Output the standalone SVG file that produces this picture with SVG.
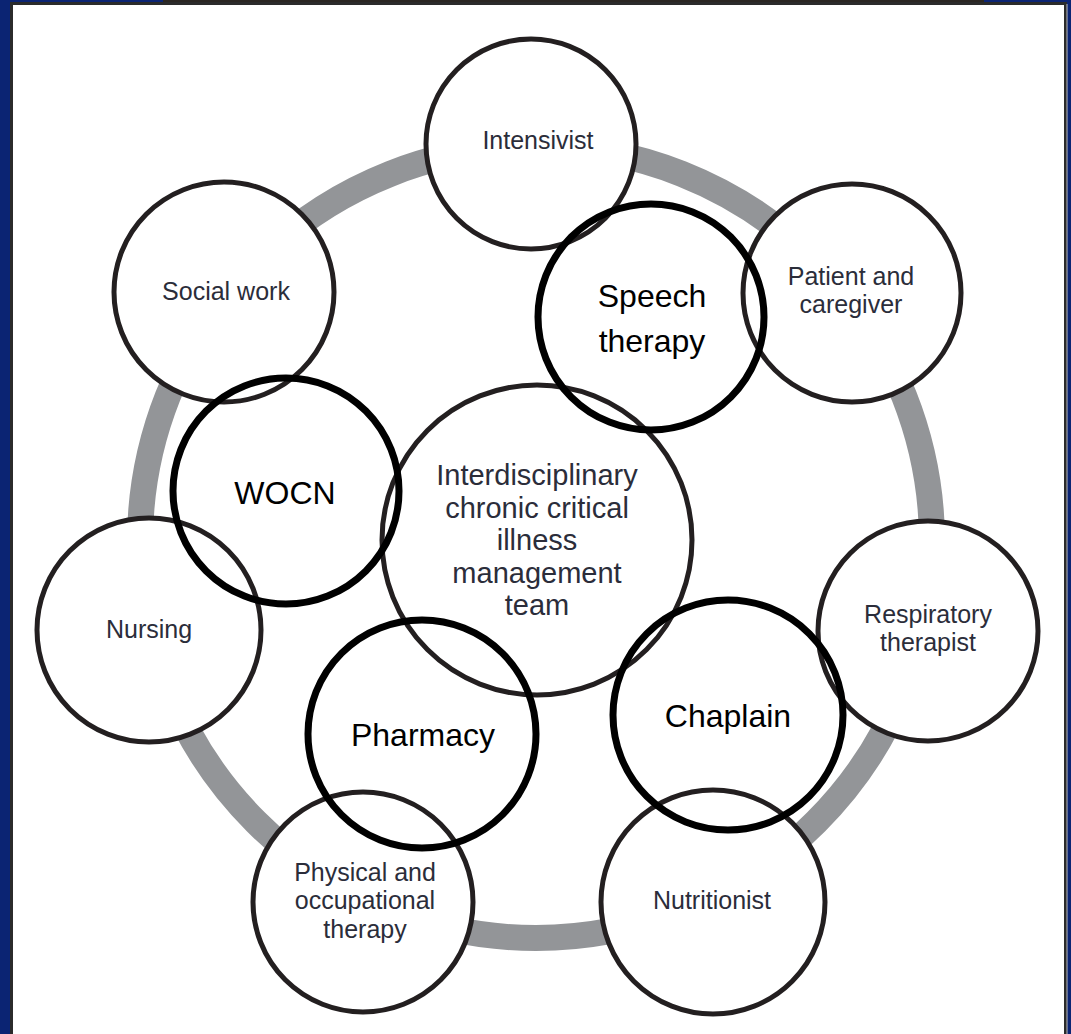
<svg xmlns="http://www.w3.org/2000/svg" width="1071" height="1034" viewBox="0 0 1071 1034">
  <style>
    .orig { fill: #ffffff; stroke: #231f20; stroke-width: 5; }
    .added { fill: none; stroke: #000000; stroke-width: 7; }
    .lbl { font-family: "Liberation Sans", Arial, sans-serif; font-size: 25px; fill: #2b2d3a; text-anchor: middle; }
    .hub { font-family: "Liberation Sans", Arial, sans-serif; font-size: 29px; fill: #2b2d3a; text-anchor: middle; }
    .big { font-family: "Liberation Sans", Arial, sans-serif; font-size: 32px; fill: #000000; text-anchor: middle; }
  </style>

  <!-- slide background and framed panel -->
  <rect x="0" y="0" width="1071" height="1034" fill="#0b2473"/>
  <rect x="163" y="0" width="821" height="4" fill="#2a2622"/>
  <rect x="11.5" y="3.5" width="1054" height="1040" fill="#ffffff" stroke="#2b2b2b" stroke-width="3"/>
  <line x1="1067" y1="4" x2="1067" y2="1034" stroke="#bdbdbd" stroke-width="1"/>

  <!-- connectors: the ring linking all disciplines -->
  <g id="connectors">
    <circle cx="536" cy="542" r="396" fill="none" stroke="#939598" stroke-width="26"/>
  </g>

  <!-- core team members -->
  <g id="hub">
    <circle class="orig" cx="537" cy="540" r="155"/>
    <text class="hub" x="537" y="485">Interdisciplinary</text>
    <text class="hub" x="537" y="518">chronic critical</text>
    <text class="hub" x="537" y="550">illness</text>
    <text class="hub" x="537" y="583">management</text>
    <text class="hub" x="537" y="615">team</text>
  </g>
  <g id="intensivist">
    <circle class="orig" cx="531" cy="144" r="105"/>
    <text class="lbl" x="538" y="149">Intensivist</text>
  </g>
  <g id="patient">
    <circle class="orig" cx="852" cy="293" r="109"/>
    <text class="lbl" x="851" y="285">Patient and</text>
    <text class="lbl" x="851" y="313">caregiver</text>
  </g>
  <g id="respiratory">
    <circle class="orig" cx="928" cy="631" r="110"/>
    <text class="lbl" x="928" y="623">Respiratory</text>
    <text class="lbl" x="928" y="651">therapist</text>
  </g>
  <g id="nutritionist">
    <circle class="orig" cx="713" cy="902" r="112"/>
    <text class="lbl" x="712" y="909">Nutritionist</text>
  </g>
  <g id="physical">
    <circle class="orig" cx="363" cy="902" r="110"/>
    <text class="lbl" x="365" y="881">Physical and</text>
    <text class="lbl" x="365" y="909">occupational</text>
    <text class="lbl" x="365" y="938">therapy</text>
  </g>
  <g id="nursing">
    <circle class="orig" cx="149" cy="630" r="112"/>
    <text class="lbl" x="149" y="638">Nursing</text>
  </g>
  <g id="social-work">
    <circle class="orig" cx="224" cy="292" r="110"/>
    <text class="lbl" x="226" y="300">Social work</text>
  </g>

  <!-- additional disciplines, outlined over the existing team -->
  <g id="speech">
    <circle class="added" cx="651" cy="317" r="113"/>
    <text class="big" x="652" y="307">Speech</text>
    <text class="big" x="652" y="352">therapy</text>
  </g>
  <g id="wocn">
    <circle class="added" cx="286" cy="491" r="113"/>
    <text class="big" x="285" y="504" font-size="34">WOCN</text>
  </g>
  <g id="pharmacy">
    <circle class="added" cx="422" cy="734" r="114"/>
    <text class="big" x="423" y="746">Pharmacy</text>
  </g>
  <g id="chaplain">
    <circle class="added" cx="728" cy="715" r="115"/>
    <text class="big" x="728" y="727">Chaplain</text>
  </g>
</svg>
